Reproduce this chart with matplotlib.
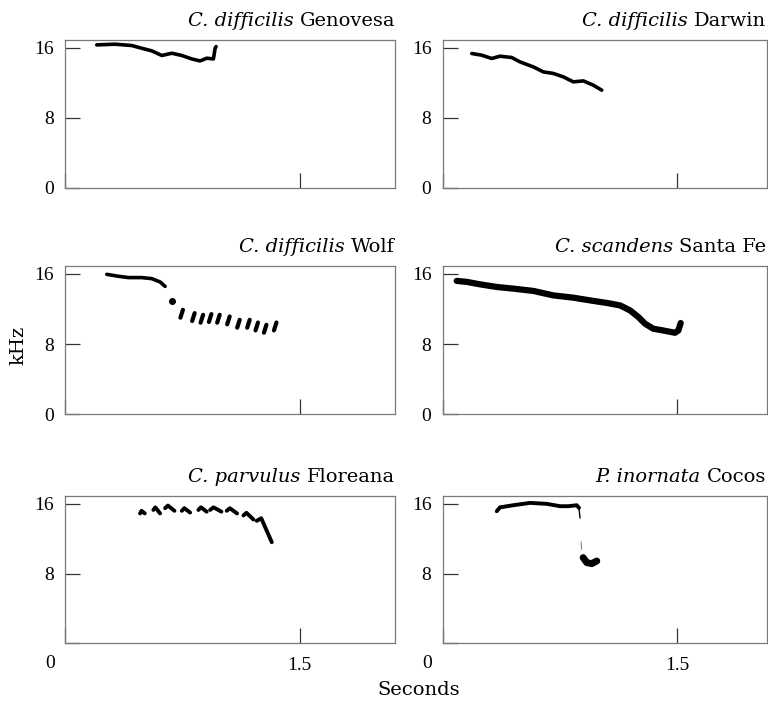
import numpy as np
import matplotlib
matplotlib.use('Agg')
import matplotlib.pyplot as plt

# traced song contours: time (s), frequency (kHz)
gen_t = [0.203, 0.32, 0.427, 0.49, 0.555, 0.619, 0.683, 0.747, 0.81, 0.864, 0.906, 0.949, 0.96, 0.966]
gen_f = [16.34, 16.42, 16.27, 15.96, 15.66, 15.13, 15.39, 15.13, 14.74, 14.51, 14.82, 14.74, 15.96, 16.15]

dar_t = [0.187, 0.25, 0.315, 0.368, 0.443, 0.496, 0.581, 0.645, 0.709, 0.773, 0.837, 0.901, 0.965, 1.019]
dar_f = [15.36, 15.17, 14.79, 15.05, 14.9, 14.4, 13.83, 13.26, 13.08, 12.69, 12.12, 12.23, 11.74, 11.17]

wolf_t = [0.267, 0.341, 0.405, 0.49, 0.555, 0.608, 0.64]
wolf_f = [15.95, 15.73, 15.58, 15.58, 15.46, 15.08, 14.58]
wolf_dot = (0.687, 12.91)
wolf_nt = [0.746, 0.821, 0.875, 0.928, 0.981, 1.045, 1.109, 1.173, 1.226, 1.28, 1.344]
wolf_nf = [11.46, 11.08, 10.89, 10.97, 10.89, 10.7, 10.32, 10.32, 10.01, 9.75, 10.01]

sf_t = [0.091, 0.155, 0.24, 0.347, 0.453, 0.581, 0.709, 0.837, 0.944, 1.051, 1.136, 1.2,
        1.253, 1.296, 1.349, 1.413, 1.488, 1.509, 1.524]
sf_f = [15.2, 15.09, 14.81, 14.51, 14.32, 14.06, 13.55, 13.29, 12.98, 12.69, 12.41, 11.84,
        11.09, 10.32, 9.75, 9.55, 9.29, 9.55, 10.4]

flo_on = [0.48, 0.565, 0.64, 0.747, 0.853, 0.928, 1.034, 1.141, 1.226]
flo_off = [0.51, 0.608, 0.70, 0.80, 0.906, 1.00, 1.10, 1.205, 1.322]
flo_peak = [15.2, 15.6, 15.8, 15.5, 15.6, 15.6, 15.5, 14.97, 14.35]
flo_end = [14.9, 14.9, 15.2, 15.0, 15.1, 15.1, 14.9, 14.2, 11.6]

coc_t = [0.347, 0.368, 0.453, 0.56, 0.667, 0.752, 0.805, 0.859, 0.873]
coc_f = [15.15, 15.6, 15.84, 16.11, 16.0, 15.73, 15.73, 15.84, 15.54]
coc_drop_t = [0.873, 0.88]
coc_drop_f = [15.54, 14.4]
coc_faint_t = [0.887, 0.89]
coc_faint_f = [11.6, 10.8]
coc_blob_t = [0.9, 0.923, 0.955, 0.987]
coc_blob_f = [9.83, 9.26, 9.14, 9.44]

species = ['C. difficilis', 'C. difficilis', 'C. difficilis', 'C. scandens', 'C. parvulus', 'P. inornata']
islands = ['Genovesa', 'Darwin', 'Wolf', 'Santa Fe', 'Floreana', 'Cocos']

W, H = 768, 702
fig = plt.figure(figsize=(W / 100, H / 100), dpi=100)
renderer = fig.canvas.get_renderer()

cols = [(65, 330, 2.11), (442.5, 324, 2.073)]
rows = [(40, 188), (266, 414.3), (496, 643.3)]
tfont = dict(fontsize=14, family='DejaVu Serif')

axes = []
for r, (top, bot) in enumerate(rows):
    for c, (x0, w, xmax) in enumerate(cols):
        ax = fig.add_axes([x0 / W, (H - bot) / H, w / W, (bot - top) / H])
        ax.set_xlim(0, xmax)
        ax.set_ylim(0, 16.9)
        for s in ax.spines.values():
            s.set_color('#7a7a7a')
            s.set_linewidth(0.9)
        ax.set_yticks([0, 8, 16])
        ax.set_xticks([0, 1.5])
        ax.tick_params(direction='in', length=10.8, width=0.9, color='#333333',
                       labelsize=14, labelfontfamily='Liberation Serif')
        ax.tick_params(axis='y', pad=8)
        ax.tick_params(axis='x', pad=10)
        if r < 2:
            ax.set_xticklabels(['', ''])
            ax.set_yticklabels(['0', '8', '16'])
        else:
            ax.set_xticklabels(['', '1.5'])
            ax.set_yticklabels(['', '8', '16'])
            ax.annotate('0', xy=(0, 0), xycoords='axes fraction', xytext=(-15, -20),
                        textcoords='offset pixels', ha='center', va='center',
                        fontsize=14, family='Liberation Serif')
        # title: italic species + roman island name, right aligned
        i = r * 2 + c
        t2 = ax.annotate(islands[i], xy=(1, 1), xycoords='axes fraction', xytext=(0, 14),
                         textcoords='offset pixels', ha='right', va='baseline', **tfont)
        w2 = t2.get_window_extent(renderer).width
        ax.annotate(species[i] + ' ', xy=(1, 1), xycoords='axes fraction', xytext=(-w2, 14),
                    textcoords='offset pixels', ha='right', va='baseline',
                    style='italic', **tfont)
        axes.append(ax)

k = 'black'
axes[0].plot(gen_t, gen_f, color=k, lw=2.6, solid_capstyle='round')
axes[1].plot(dar_t, dar_f, color=k, lw=2.6, solid_capstyle='round')

ax = axes[2]
ax.plot(wolf_t, wolf_f, color=k, lw=2.6, solid_capstyle='round')
ax.plot(*wolf_dot, 'o', color=k, ms=4)
for t, f in zip(wolf_nt, wolf_nf):
    ax.plot([t - 0.008, t + 0.008], [f - 0.45, f + 0.45], color=k, lw=3, solid_capstyle='round')

axes[3].plot(sf_t, sf_f, color=k, lw=4.5, solid_capstyle='round')

ax = axes[4]
for on, off, pk, end in zip(flo_on, flo_off, flo_peak, flo_end):
    tp = on + 0.3 * (off - on)
    ax.plot([on, tp, off], [pk - 0.3, pk, end], color=k, lw=2.8, solid_capstyle='round')

ax = axes[5]
ax.plot(coc_t, coc_f, color=k, lw=2.8, solid_capstyle='round')
ax.plot(coc_drop_t, coc_drop_f, color=k, lw=1)
ax.plot(coc_faint_t, coc_faint_f, color='#888888', lw=0.8)
ax.plot(coc_blob_t, coc_blob_f, color=k, lw=5, solid_capstyle='round')

fig.text(18 / W, (H - 345) / H, 'kHz', rotation=90, ha='center', va='center', **tfont)
fig.text(419 / W, (H - 690) / H, 'Seconds', ha='center', va='center', **tfont)

fig.savefig('out.png', dpi=100)
